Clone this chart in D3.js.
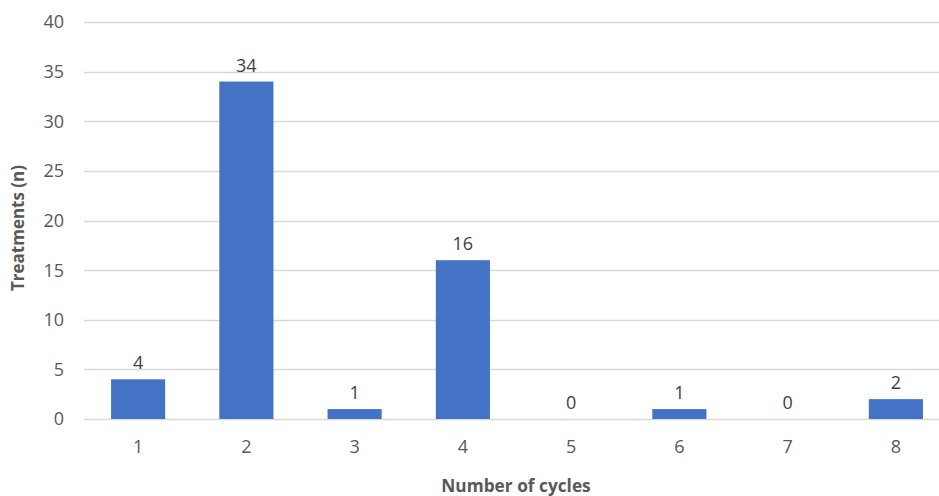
<!DOCTYPE html>
<html>
<head>
<meta charset="utf-8">
<script src="https://cdn.jsdelivr.net/npm/d3@7"></script>
<style>
  body { margin: 0; background: #fff; }
  svg { display: block; font-family: "Open Sans", "Noto Sans", sans-serif; }
</style>
</head>
<body>
<script>
const cycles = ["1", "2", "3", "4", "5", "6", "7", "8"];
const treatments = [4, 34, 1, 16, 0, 1, 0, 2];
const yTicks = [0, 5, 10, 15, 20, 25, 30, 35, 40];

const width = 939, height = 496;

const svg = d3.select("body").append("svg")
    .attr("width", width)
    .attr("height", height);

const x = d3.scaleBand().domain(cycles).range([84, 950]).paddingInner(0.5).paddingOuter(0.25);
const y = d3.scaleLinear().domain([0, 40]).range([419, 22]);

// gridlines
svg.append("g")
    .attr("stroke", "#d9d9d9")
    .attr("stroke-width", 1.3)
  .selectAll("line")
  .data(yTicks)
  .join("line")
    .attr("x1", 84)
    .attr("x2", width)
    .attr("y1", d => Math.round(y(d)) + 0.5)
    .attr("y2", d => Math.round(y(d)) + 0.5);

// y labels
svg.append("g")
    .attr("fill", "#595959")
    .attr("font-size", 18)
    .attr("text-anchor", "end")
  .selectAll("text")
  .data(yTicks)
  .join("text")
    .attr("x", 64)
    .attr("y", d => y(d))
    .attr("dy", "0.36em")
    .text(d => d);

// bars
svg.append("g")
    .attr("fill", "#4472c4")
  .selectAll("rect")
  .data(treatments)
  .join("rect")
    .attr("x", (d, i) => x(cycles[i]))
    .attr("width", x.bandwidth())
    .attr("y", d => y(d))
    .attr("height", d => y(0) - y(d));

// value labels
svg.append("g")
    .attr("fill", "#404040")
    .attr("font-size", 18)
    .attr("text-anchor", "middle")
  .selectAll("text")
  .data(treatments)
  .join("text")
    .attr("x", (d, i) => x(cycles[i]) + x.bandwidth() / 2)
    .attr("y", d => y(d) - 10)
    .text(d => d);

// x labels
svg.append("g")
    .attr("fill", "#595959")
    .attr("font-size", 18)
    .attr("text-anchor", "middle")
  .selectAll("text")
  .data(cycles)
  .join("text")
    .attr("x", d => x(d) + x.bandwidth() / 2)
    .attr("y", 453)
    .text(d => d);

// axis titles
svg.append("text")
    .attr("x", 516)
    .attr("y", 492)
    .attr("text-anchor", "middle")
    .attr("font-size", 17.3)
    .attr("font-weight", "bold")
    .attr("fill", "#595959")
    .text("Number of cycles");

svg.append("text")
    .attr("transform", "translate(24,228) rotate(-90)")
    .attr("text-anchor", "middle")
    .attr("font-size", 17)
    .attr("font-weight", "bold")
    .attr("fill", "#595959")
    .text("Treatments (n)");
</script>
</body>
</html>
